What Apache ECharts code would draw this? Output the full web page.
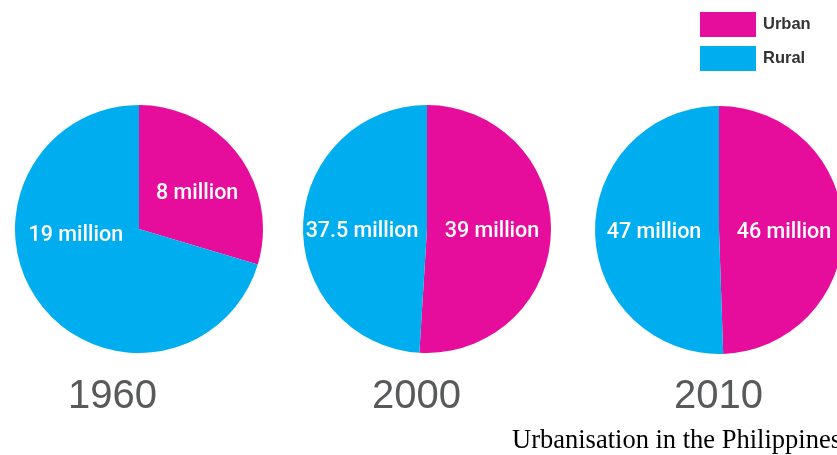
<!DOCTYPE html>
<html>
<head>
<meta charset="utf-8">
<script src="https://cdn.jsdelivr.net/npm/echarts@6/dist/echarts.min.js"></script>
<style>
html,body{margin:0;padding:0;background:#fff;}
#chart{width:837px;height:455px;}
</style>
</head>
<body>
<div id="chart"></div>
<script>
const years = ['1960', '2000', '2010'];
const categories = ['Urban', 'Rural'];
const urban = [8, 39, 46];
const rural = [19, 37.5, 47];
const urbanLabels = ['8 million', '39 million', '46 million'];
const ruralLabels = ['19 million', '37.5 million', '47 million'];
const titleText = 'Urbanisation in the Philippines';

const colors = ['#e60c9c', '#00aeef'];
const centers = [[139, 229], [427, 229], [719, 230]];
const yearX = [114, 418, 720];

const chart = echarts.init(document.getElementById('chart'));

const series = years.map((y, i) => ({
  type: 'pie',
  name: y,
  center: centers[i],
  radius: [0, 124],
  startAngle: 90,
  clockwise: true,
  silent: true,
  animation: false,
  itemStyle: { borderWidth: 0 },
  label: {
    show: true,
    position: 'inside',
    color: '#ffffff',
    fontFamily: 'Roboto',
    fontWeight: 500,
    fontSize: 21.5,
    formatter: p => p.dataIndex === 0 ? urbanLabels[i] : ruralLabels[i]
  },
  labelLine: { show: false },
  labelLayout: function (params) {
    if (i === 0 && params.dataIndex === 0) {
      return { dx: 6, dy: 3 };
    }
    if (i === 0 && params.dataIndex === 1) {
      return { dx: -11, dy: -32 };
    }
    return { y: centers[i][1] + 3, verticalAlign: 'middle' };
  },
  data: [
    { name: categories[0], value: urban[i], itemStyle: { color: colors[0] } },
    { name: categories[1], value: rural[i], itemStyle: { color: colors[1] } }
  ]
}));

const graphics = years.map((y, i) => ({
  type: 'text',
  left: yearX[i] - 46,
  top: 377,
  style: {
    text: y,
    fill: '#58595b',
    font: '400 40px "Liberation Sans", Arial, sans-serif'
  }
}));
graphics.push({
  type: 'text',
  left: 512,
  top: 428,
  style: {
    text: titleText,
    fill: '#000000',
    font: '26.5px "Liberation Serif", "Times New Roman", serif'
  }
});

chart.setOption({
  backgroundColor: '#ffffff',
  animation: false,
  color: colors,
  legend: {
    data: categories,
    orient: 'vertical',
    left: 700,
    top: 12,
    padding: 0,
    itemWidth: 56,
    itemHeight: 25,
    itemGap: 9,
    icon: 'rect',
    selectedMode: false,
    textStyle: {
      fontFamily: 'Liberation Sans',
      fontWeight: 'bold',
      fontSize: 16.5,
      color: '#333333',
      padding: [0, 0, 0, 2]
    }
  },
  graphic: graphics,
  series: series
});
</script>
</body>
</html>
